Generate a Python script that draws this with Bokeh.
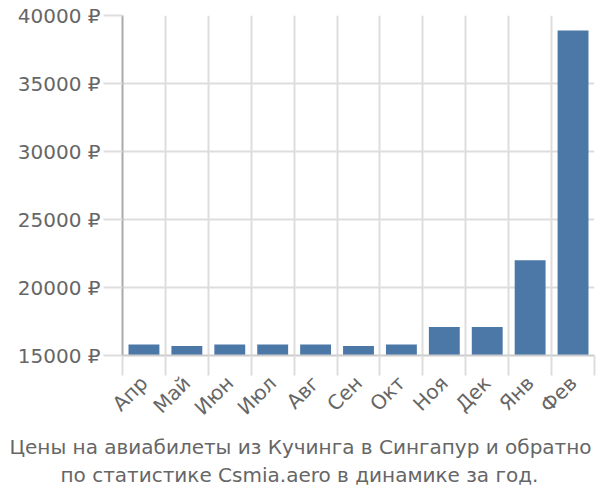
import math
from bokeh.plotting import figure
from bokeh.models import FixedTicker, Range1d, Title, ColumnDataSource
from bokeh.embed import file_html
from bokeh.resources import INLINE

months = ["Апр", "Май", "Июн", "Июл", "Авг", "Сен", "Окт", "Ноя", "Дек", "Янв", "Фев"]
prices = [15800, 15700, 15800, 15800, 15800, 15700, 15800, 17100, 17100, 22000, 38900]
y_ticks = [15000, 20000, 25000, 30000, 35000, 40000]
title_lines = ["Цены на авиабилеты из Кучинга в Сингапур и обратно",
               "по статистике Csmia.aero в динамике за год."]

FONT = "DejaVu Sans"
GREY = "#666666"

n = len(months)
centers = [i + 0.5 for i in range(n)]
bounds = list(range(n + 1))

LEFT, RIGHT, TOP, BOTTOM = 122, 6, 15, 145
p = figure(width=600, height=500, output_backend="svg", toolbar_location=None,
           x_range=Range1d(0, n), y_range=Range1d(15000, 40000),
           min_border_left=LEFT, min_border_right=RIGHT, min_border_top=TOP,
           min_border_bottom=BOTTOM)
p.outline_line_color = None
p.background_fill_color = "white"
p.border_fill_color = "white"

src = ColumnDataSource(dict(x=centers, top=prices))
p.vbar(x="x", top="top", bottom=15000, width=0.72, source=src,
       fill_color="#4c78a8", line_color=None)

# x axis
xa = p.xaxis[0]
xa.ticker = FixedTicker(ticks=centers, minor_ticks=bounds)
xa.major_label_overrides = {c: m for c, m in zip(centers, months)}
xa.major_label_orientation = math.pi / 4
xa.major_tick_out = 0
xa.major_tick_in = 0
xa.minor_tick_out = 20
xa.minor_tick_in = 0
xa.minor_tick_line_color = "#dddddd"
xa.minor_tick_line_width = 2
xa.axis_line_color = "#cccccc"
xa.axis_line_width = 2
xa.major_label_text_font = FONT
xa.major_label_text_font_size = "20px"
xa.major_label_text_color = GREY
xa.major_label_standoff = 4

# y axis
ya = p.yaxis[0]
ya.ticker = FixedTicker(ticks=y_ticks)
ya.major_label_overrides = {t: f"{t} ₽" for t in y_ticks}
ya.major_tick_out = 19
ya.major_tick_in = 0
ya.major_tick_line_color = "#dddddd"
ya.major_tick_line_width = 2
ya.minor_tick_line_color = None
ya.axis_line_color = "#aaaaaa"
ya.axis_line_width = 2
ya.major_label_text_font = FONT
ya.major_label_text_font_size = "20px"
ya.major_label_text_color = GREY
ya.major_label_standoff = 3

p.xgrid.ticker = FixedTicker(ticks=bounds)
p.xgrid.grid_line_color = "#dddddd"
p.xgrid.grid_line_width = 2
p.ygrid.ticker = FixedTicker(ticks=y_ticks)
p.ygrid.grid_line_color = "#dddddd"
p.ygrid.grid_line_width = 2

offsets = [-113, -62]
for line, off in zip(title_lines, offsets):
    t = Title(text=line, align="left", offset=off, text_font=FONT, text_font_size="20px",
              text_font_style="normal", text_color=GREY, standoff=2)
    p.add_layout(t, "below")

open("out.html", "w").write(file_html(p, INLINE))
